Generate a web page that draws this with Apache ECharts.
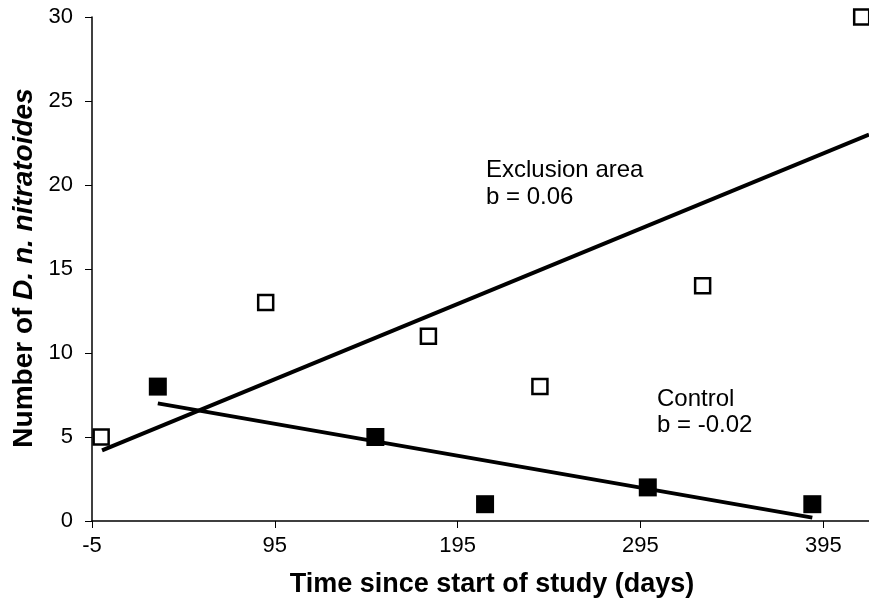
<!DOCTYPE html>
<html>
<head>
<meta charset="utf-8">
<script src="https://cdn.jsdelivr.net/npm/echarts@6/dist/echarts.min.js"></script>
<style>
  html, body { margin: 0; padding: 0; background: #fff; }
  #chart { width: 869px; height: 602px; }
</style>
</head>
<body>
<div id="chart"></div>
<script>
// open squares: exclusion area
const exclusionX = [0, 90, 179, 240, 329, 416]
const exclusionY = [5, 13, 11, 8, 14, 30]
// filled squares: control
const controlX = [31, 150, 210, 299, 389]
const controlY = [8, 5, 1, 2, 1]
// fitted lines, endpoints
const exclusionFitX = [0.5, 420]
const exclusionFitY = [4.2, 23]
const controlFitX = [31, 389]
const controlFitY = [7.0, 0.2]
const xTicks = [-5, 95, 195, 295, 395]

const pairs = (xs, ys) => xs.map((x, i) => [x, ys[i]])

const chart = echarts.init(document.getElementById('chart'))
const font = 'Liberation Sans, Arial, sans-serif'

chart.setOption({
  animation: false,
  grid: { left: 92, right: 0, top: 17, bottom: 81 },
  xAxis: {
    type: 'value',
    min: -5,
    max: 420,
    axisLine: { onZero: false, lineStyle: { color: '#000', width: 1.5 } },
    axisTick: { customValues: xTicks, length: 7, lineStyle: { color: '#000' } },
    axisLabel: { customValues: xTicks, color: '#000', fontSize: 22, fontFamily: font, margin: 14 },
    splitLine: { show: false }
  },
  yAxis: {
    type: 'value',
    min: 0,
    max: 30,
    interval: 5,
    axisLine: { show: true, onZero: false, lineStyle: { color: '#000', width: 1.5 } },
    axisTick: { show: true, length: 7, lineStyle: { color: '#000' } },
    axisLabel: { color: '#000', fontSize: 22, fontFamily: font, margin: 19 },
    splitLine: { show: false }
  },
  graphic: [
    { type: 'text', x: 486, y: 184, style: { text: 'Exclusion area\nb = 0.06', fill: '#000', font: '24px Liberation Sans, Arial, sans-serif', lineHeight: 27, verticalAlign: 'middle' } },
    { type: 'text', x: 657, y: 412, style: { text: 'Control\nb = -0.02', fill: '#000', font: '24px Liberation Sans, Arial, sans-serif', lineHeight: 26, verticalAlign: 'middle' } },
    // axis titles
    { type: 'text', x: 492, y: 585, style: { text: 'Time since start of study (days)', fill: '#000', font: 'bold 27px Liberation Sans, Arial, sans-serif', align: 'center', verticalAlign: 'middle' } },
    {
      type: 'text', x: 24, y: 268, rotation: Math.PI / 2,
      style: {
        text: '{b|Number of }{i|D. n. nitratoides}',
        align: 'center', verticalAlign: 'middle',
        rich: {
          b: { fill: '#000', fontSize: 28, fontWeight: 'bold', fontFamily: font },
          i: { fill: '#000', fontSize: 28, fontWeight: 'bold', fontStyle: 'italic', fontFamily: font }
        }
      }
    }
  ],
  series: [
    {
      name: 'Exclusion fit',
      type: 'line',
      data: pairs(exclusionFitX, exclusionFitY),
      symbol: 'none',
      lineStyle: { color: '#000', width: 4 },
      z: 2
    },
    {
      name: 'Control fit',
      type: 'line',
      data: pairs(controlFitX, controlFitY),
      symbol: 'none',
      lineStyle: { color: '#000', width: 4 },
      z: 2
    },
    {
      name: 'Exclusion area',
      type: 'scatter',
      data: pairs(exclusionX, exclusionY),
      symbol: 'rect',
      symbolSize: 15,
      itemStyle: { color: '#fff', borderColor: '#000', borderWidth: 2.5, opacity: 1 },
      z: 3
    },
    {
      name: 'Control',
      type: 'scatter',
      data: pairs(controlX, controlY),
      symbol: 'rect',
      symbolSize: 18,
      itemStyle: { color: '#000', opacity: 1 },
      z: 3
    }
  ]
})
</script>
</body>
</html>
